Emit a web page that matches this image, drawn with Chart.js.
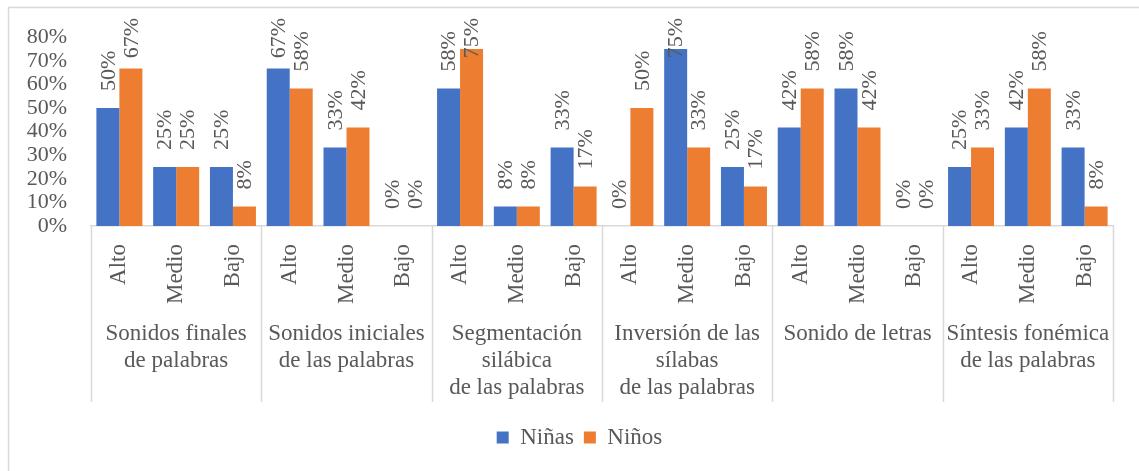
<!DOCTYPE html>
<html>
<head>
<meta charset="utf-8">
<script src="https://cdn.jsdelivr.net/npm/chart.js@4"></script>
<style>
  body { margin: 0; background: #fff; }
  canvas { display: block; }
</style>
</head>
<body>
<canvas id="nivelChart" width="1139" height="471"></canvas>
<script>
var grupos = [
    ["Sonidos finales", "de palabras"],
    ["Sonidos iniciales", "de las palabras"],
    ["Segmentación", "silábica", "de las palabras"],
    ["Inversión de las", "sílabas", "de las palabras"],
    ["Sonido de letras"],
    ["Síntesis fonémica", "de las palabras"]
];
var niveles = ["Alto", "Medio", "Bajo"];
var ninas = [0.50, 0.25, 0.25, 0.667, 0.333, 0, 0.583, 0.083, 0.333, 0, 0.75, 0.25, 0.417, 0.583, 0, 0.25, 0.417, 0.333];
var ninos = [0.667, 0.25, 0.083, 0.583, 0.417, 0, 0.75, 0.083, 0.167, 0.50, 0.333, 0.167, 0.583, 0.417, 0, 0.333, 0.583, 0.083];

var xLabels = [];
grupos.forEach(function () {
    niveles.forEach(function (n) { xLabels.push(n); });
});

var gris = "#595959";
var fuente = "'Liberation Serif', 'Times New Roman', serif";

// marco, separadores, nombres de grupo y etiquetas de datos
var extras = {
    id: "extras",
    afterLayout: function (chart) {
        // la leyenda del original queda algo a la derecha del centro
        chart.legend.left += 23;
        chart.legend.right += 23;
    },
    beforeDraw: function (chart) {
        var ctx = chart.ctx;
        ctx.save();
        ctx.fillStyle = "#fff";
        ctx.fillRect(0, 0, chart.width, chart.height);
        ctx.strokeStyle = "#D9D9D9";
        ctx.lineWidth = 1.5;
        ctx.strokeRect(8.5, 7.5, 1300, 600);
        ctx.restore();
    },
    afterDraw: function (chart) {
        var ctx = chart.ctx;
        var x = chart.scales.x;
        var top = chart.chartArea.bottom;
        var w = (x.right - x.left) / xLabels.length;
        ctx.save();
        ctx.strokeStyle = "#D9D9D9";
        ctx.lineWidth = 1.5;
        for (var g = 0; g <= grupos.length; g++) {
            var px = Math.round(x.left + g * 3 * w) + 0.5;
            ctx.beginPath();
            ctx.moveTo(px, top);
            ctx.lineTo(px, 402);
            ctx.stroke();
        }
        ctx.fillStyle = gris;
        ctx.font = "23px " + fuente;
        ctx.textAlign = "center";
        ctx.textBaseline = "middle";
        grupos.forEach(function (lines, g) {
            var cx = x.left + (g * 3 + 1.5) * w;
            lines.forEach(function (t, i) {
                ctx.fillText(t, cx, 334 + i * 27);
            });
        });

        ctx.font = "22px " + fuente;
        ctx.textAlign = "left";
        chart.data.datasets.forEach(function (ds, di) {
            chart.getDatasetMeta(di).data.forEach(function (bar, i) {
                var txt = Math.round(ds.data[i] * 100) + "%";
                var tw = ctx.measureText(txt).width;
                var start = bar.y - 17;
                if (start - tw < 18) start = 18 + tw;
                ctx.save();
                ctx.translate(bar.x + 1, start);
                ctx.rotate(-Math.PI / 2);
                ctx.fillText(txt, 0, 0);
                ctx.restore();
            });
        });
        ctx.restore();
    }
};

new Chart("nivelChart", {
    type: "bar",
    data: {
        labels: xLabels,
        datasets: [{
            label: "Niñas",
            data: ninas,
            backgroundColor: "#4472C4"
        }, {
            label: "Niños",
            data: ninos,
            backgroundColor: "#ED7D31"
        }]
    },
    options: {
        responsive: false,
        animation: false,
        categoryPercentage: 0.81,
        barPercentage: 1.0,
        layout: {
            padding: { top: 36, right: 26, bottom: 12, left: 0 }
        },
        plugins: {
            legend: {
                position: "bottom",
                labels: {
                    boxWidth: 12,
                    boxHeight: 12,
                    color: gris,
                    padding: 10,
                    font: { family: fuente, size: 23 }
                }
            },
            tooltip: { enabled: false }
        },
        scales: {
            y: {
                min: 0,
                max: 0.8,
                ticks: {
                    stepSize: 0.1,
                    autoSkip: false,
                    padding: 24,
                    color: gris,
                    font: { family: fuente, size: 22 },
                    callback: function (v) { return Math.round(v * 100) + "%"; }
                },
                grid: { display: false, drawTicks: false },
                border: { display: false },
                afterFit: function (s) { s.width = 91; }
            },
            x: {
                ticks: {
                    autoSkip: false,
                    maxRotation: 90,
                    minRotation: 90,
                    padding: 18,
                    color: gris,
                    font: { family: fuente, size: 23 }
                },
                grid: { display: false, drawTicks: false },
                border: { display: true, color: "#D9D9D9", width: 1.5 },
                afterFit: function (s) { s.height = 190; }
            }
        }
    },
    plugins: [extras]
});
</script>
</body>
</html>
